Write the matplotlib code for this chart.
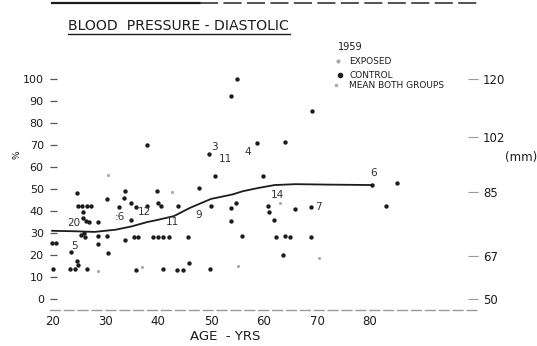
import matplotlib
matplotlib.use("Agg")
import matplotlib.pyplot as plt
from matplotlib.lines import Line2D

plt.rcParams['font.family'] = ['DejaVu Sans']

INK = '#1c1c1c'

# ---- data ----
control_age = [20.0, 20.8, 20.2, 23.4, 24.4, 26.6, 23.6, 24.7, 24.8, 24.7,
               24.8, 25.6, 26.5, 27.3, 25.8, 25.9, 26.4, 27.0, 28.7, 25.5,
               26.2, 26.0, 28.7, 30.4, 28.7, 30.6, 30.4, 33.8, 33.6, 32.6,
               34.9, 35.8, 37.9, 34.9, 39.8, 40.0, 40.5, 43.8, 33.8, 35.4,
               36.3, 39.0, 40.0, 41.0, 42.0, 45.7, 35.8, 40.9, 43.6, 44.7,
               45.9, 49.8, 37.9, 47.7, 49.6, 50.8, 50.0, 53.8, 54.7, 53.8,
               53.8, 54.9, 55.8, 58.7, 59.8, 64.0, 69.1, 60.8, 61.0, 61.9,
               65.8, 68.9, 62.3, 64.0, 64.9, 68.9, 63.6, 80.4, 85.1, 83.0]
control_val = [25.5, 25.5, 13.6, 13.6, 13.6, 13.6, 21.4, 17.3, 15.5, 48.0,
               42.3, 42.3, 42.3, 42.3, 39.5, 37.0, 35.5, 34.8, 35.0, 29.0,
               28.2, 30.0, 28.6, 28.6, 25.0, 21.0, 45.5, 49.0, 46.0, 41.8,
               43.6, 41.8, 42.3, 36.0, 49.0, 43.5, 42.3, 42.3, 27.0, 28.2,
               28.2, 28.2, 28.2, 28.2, 28.2, 28.2, 13.2, 13.6, 13.2, 13.2,
               16.4, 13.6, 70.0, 50.5, 66.0, 56.0, 42.3, 41.4, 43.6, 35.5,
               92.3, 100.0, 28.6, 71.0, 56.0, 71.4, 85.5, 42.3, 39.5, 36.0,
               41.0, 42.0, 28.2, 28.6, 28.2, 28.2, 20.0, 51.8, 52.7, 42.3]

exposed_age = [30.6, 42.6, 63.0, 70.4, 55.1, 37.0, 28.7]
exposed_val = [56.4, 48.6, 43.6, 18.6, 15.0, 14.5, 12.7]

mean_age = [20, 24, 28, 32, 35, 38, 40, 43, 46, 50, 54, 56, 59, 62, 66, 72, 80.4]
mean_val = [31.0, 30.8, 30.5, 31.5, 33.0, 35.0, 36.0, 37.7, 41.4, 45.5, 47.5,
            49.0, 50.5, 51.8, 52.2, 52.0, 51.8]

count_labels = ['20', '5', ':6', '12', '11', '9', '3', '11', '4', '14', '7', '6']
count_age = [24.0, 24.2, 32.8, 37.5, 42.8, 47.7, 50.6, 52.8, 57.0, 62.6, 70.2, 80.6]
count_val = [34.5, 24.0, 37.3, 39.5, 35.0, 38.0, 69.0, 63.6, 66.8, 47.3, 41.8, 57.3]

x_ticks = [20, 30, 40, 50, 60, 70, 80]
y_ticks = [0, 10, 20, 30, 40, 50, 60, 70, 80, 90, 100]
mm_pos = [0, 19.5, 48.6, 73.6, 100]
mm_labels = ['50', '67', '85', '102', '120']

# ---- figure ----
W, H = 537, 346
fig = plt.figure(figsize=(W / 100, H / 100), dpi=100)
fig.patch.set_facecolor('white')

L, R, B, T = 50, 478, 310, 68
ax = fig.add_axes([L / W, 1 - B / H, (R - L) / W, (B - T) / H])
ax.set_xlim(19.6, 20 + (R - 52) / 5.3)
ax.set_ylim(-5, 105)
ax.set_facecolor('white')

for s in ['top', 'right', 'left']:
    ax.spines[s].set_visible(False)
ax.spines['bottom'].set_color('#9a9a9a')
ax.spines['bottom'].set_linestyle((0, (7, 3)))
ax.spines['bottom'].set_linewidth(1.0)

ax.set_xticks(x_ticks)
ax.set_xticklabels([str(v) for v in x_ticks])
ax.set_yticks(y_ticks)
ax.set_yticklabels([str(v) for v in y_ticks])
ax.tick_params(axis='x', length=0, pad=3.5, labelsize=8.5, labelcolor=INK)
ax.tick_params(axis='y', direction='in', length=5, width=0.9, color='#555555',
               pad=4.5, labelsize=8, labelcolor=INK)

ax2 = ax.twinx()
ax2.set_ylim(ax.get_ylim())
for s in ['top', 'right', 'left', 'bottom']:
    ax2.spines[s].set_visible(False)
ax2.set_yticks(mm_pos)
ax2.set_yticklabels(mm_labels)
ax2.tick_params(axis='y', direction='in', length=7, width=0.8, color='#9a9a9a',
                pad=3.5, labelsize=8.5, labelcolor=INK)

# mean curve
ax.plot(mean_age, mean_val, color=INK, lw=1.3, zorder=3)

# points
ax.scatter(control_age, control_val, s=10, color=INK, zorder=4, linewidths=0)
ax.scatter(exposed_age, exposed_val, s=5, color='#a8a8a8', zorder=4, linewidths=0)

for lab, a, v in zip(count_labels, count_age, count_val):
    ax.text(a, v, lab, fontsize=7.5, color='#333333', ha='center', va='center', zorder=5)

# labels
fig.text(225 / W, 1 - 337 / H, 'AGE  - YRS', fontsize=9.5, color=INK,
         ha='center', va='center')
fig.text(17 / W, 1 - 155 / H, '%', fontsize=6.5, color=INK, rotation=90,
         ha='center', va='center')
fig.text(521 / W, 1 - 158 / H, '(mm)', fontsize=8.5, color=INK,
         ha='center', va='center')

# title with underline
fig.text(68 / W, 1 - 26 / H, 'BLOOD  PRESSURE - DIASTOLIC', fontsize=10.1,
         color=INK, ha='left', va='center')
fig.add_artist(Line2D([68 / W, 290 / W], [1 - 34 / H, 1 - 34 / H],
                      color=INK, lw=1.0, transform=fig.transFigure))

# top rule from the scan
fig.add_artist(Line2D([52 / W, 200 / W], [1 - 3 / H, 1 - 3 / H],
                      color=INK, lw=1.6, transform=fig.transFigure))
fig.add_artist(Line2D([200 / W, 480 / W], [1 - 3 / H, 1 - 3 / H],
                      color='#444444', lw=1.3, linestyle=(0, (10, 3)),
                      transform=fig.transFigure))

# legend block
fig.text(350 / W, 1 - 47 / H, '1959', fontsize=7, color=INK, ha='center', va='center')
fig.text(349 / W, 1 - 62 / H, 'EXPOSED', fontsize=6.5, color=INK, ha='left', va='center')
fig.text(349 / W, 1 - 75 / H, 'CONTROL', fontsize=6.5, color=INK, ha='left', va='center')
fig.text(349 / W, 1 - 86 / H, 'MEAN BOTH GROUPS', fontsize=6.5, color=INK, ha='left', va='center')
fig.add_artist(Line2D([338 / W], [1 - 61 / H], marker='o', markersize=2,
                      color='#aaaaaa', lw=0, transform=fig.transFigure))
fig.add_artist(Line2D([340 / W], [1 - 75 / H], marker='o', markersize=3,
                      color=INK, lw=0, transform=fig.transFigure))
fig.add_artist(Line2D([336 / W], [1 - 85 / H], marker='o', markersize=1.5,
                      color='#aaaaaa', lw=0, transform=fig.transFigure))

fig.savefig('out.png', dpi=100, facecolor='white')
